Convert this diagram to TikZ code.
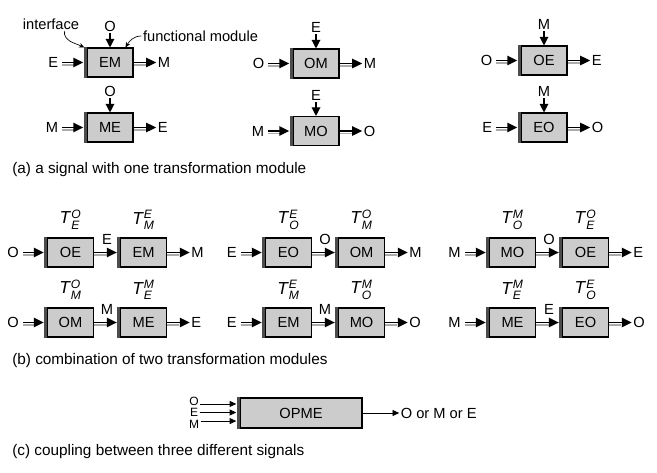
\documentclass[tikz,border=0pt]{standalone}
\usepackage{amsmath}
\usepackage{fontspec}
\setmainfont{Liberation Sans}
\usetikzlibrary{arrows.meta,positioning}

\newcommand{\tmod}[2]{\textit{T}$^{\textit{#1}}_{\textit{#2}}$}

\begin{document}
\begin{tikzpicture}[
    x=0.75pt, y=-0.75pt,
    font=\fontsize{11}{13}\selectfont,
    module/.style={rectangle, draw, line width=0.8pt, fill=gray!40, minimum width=34.5pt, minimum height=21.75pt, inner sep=0pt,
        append after command={([xshift=-0.9pt]\tikzlastnode.north west) edge[iface] ([xshift=-0.9pt]\tikzlastnode.south west)}},
    iface/.style={draw=gray!60!black, line width=2.2pt},
    sigtxt/.style={inner sep=1pt},
    ttxt/.style={inner sep=1pt, font=\fontsize{13}{15}\selectfont},
    caption/.style={anchor=west, inner sep=0pt, font=\fontsize{11.5}{14}\selectfont},
    sig/.style={-{Triangle[length=7.5pt,width=7pt]}, line width=1.1pt,
        preaction={draw=gray!65, line width=1.1pt, -, shorten >=8pt, transform canvas={yshift=-1.7pt}}},
    toband/.style={shorten >=2.4pt},
    ctl/.style={-{Triangle[length=6.5pt,width=6.5pt]}, line width=0.9pt},
    thinsig/.style={-{Triangle[length=5pt,width=4.5pt]}, line width=0.6pt},
    note/.style={-{Stealth[length=4pt,width=3.5pt]}, line width=0.5pt}
]
    \useasboundingbox (0,0) rectangle (657,472);

    % (a) one transformation module
    \foreach \nm/\x/\y/\sIn/\sCt/\sOut in {a1/110/62.5/E/O/M, a2/110/127.5/M/O/E, a3/316/63.5/O/E/M,
                                          a4/316/131/M/E/O, a5/544/60.5/O/M/E, a6/544/127.5/E/M/O}{
        \node[module] (\nm) at (\x,\y) {\sIn\sOut};
        \node[sigtxt, left=20pt of \nm] (\nm-in) {\sIn};
        \node[sigtxt, right=17pt of \nm] (\nm-out) {\sOut};
        \node[sigtxt, above=10.5pt of \nm] (\nm-ctl) {\sCt};
        \draw[sig, toband, shorten <=2pt] (\nm-in) -- (\nm);
        \draw[sig] (\nm) -- (\nm-out);
        \draw[ctl] (\nm-ctl) -- (\nm);
    }
    \node[sigtxt] (iface-txt) at (51,24) {interface};
    \node[sigtxt] (fm-txt) at (200.5,36) {functional module};
    \draw[note] ([xshift=10pt]iface-txt.south) to[out=-95, in=155] ([xshift=-1.6pt]a1.north west);
    \draw[note] (fm-txt.west) to[out=180, in=60] ([xshift=-6pt]a1.north east);
    \node[caption] (cap-a) at (12,170) {(a) a signal with one transformation module};

    % (b) two modules in a row
    \foreach \nm/\x/\y/\sIn/\sMid/\sOut in {b1/70.5/252.5/O/E/M, b2/70.5/322.5/O/M/E, b3/288.5/252.5/E/O/M,
                                           b4/288.5/322.5/E/M/O, b5/512.5/252.5/M/O/E, b6/512.5/322.5/M/E/O}{
        \node[module] (\nm-p) at (\x,\y) {\sIn\sMid};
        \node[module, right=19.5pt of \nm-p] (\nm-q) {\sMid\sOut};
        \node[sigtxt, left=20pt of \nm-p] (\nm-in) {\sIn};
        \node[sigtxt, right=17pt of \nm-q] (\nm-out) {\sOut};
        \node[ttxt, above=5pt of \nm-p] (\nm-tp) {\tmod{\sIn}{\sMid}};
        \node[ttxt, above=5pt of \nm-q] (\nm-tq) {\tmod{\sMid}{\sOut}};
        \draw[sig, toband, shorten <=2pt] (\nm-in) -- (\nm-p);
        \draw[sig, toband] (\nm-p) -- node[sigtxt, above=4.5pt] {\sMid} (\nm-q);
        \draw[sig] (\nm-q) -- (\nm-out);
    }
    \node[caption] (cap-b) at (12,361) {(b) combination of two transformation modules};

    % (c) coupling
    \node[module, minimum width=91.5pt, minimum height=22.5pt] (opme) at (301,413) {OPME};
    \node[sigtxt, font=\fontsize{9}{10}\selectfont] (c-o) at (194,401) {O};
    \node[sigtxt, font=\fontsize{9}{10}\selectfont] (c-e) at (194,412.5) {E};
    \node[sigtxt, font=\fontsize{9}{10}\selectfont] (c-m) at (194,424) {M};
    \node[sigtxt, right=27.5pt of opme] (c-out) {O or M or E};
    \draw[thinsig, shorten >=2.4pt] ([yshift=-2.2pt]c-o.east) -- ([yshift=-2.2pt]c-o.east -| opme.west);
    \draw[thinsig, shorten >=2.4pt] (c-e.east) -- (c-e.east -| opme.west);
    \draw[thinsig, shorten >=2.4pt] ([yshift=2.2pt]c-m.east) -- ([yshift=2.2pt]c-m.east -| opme.west);
    \draw[thinsig] (opme) -- (c-out);
    \node[caption] (cap-c) at (12,452) {(c) coupling between three different signals};
\end{tikzpicture}
\end{document}
